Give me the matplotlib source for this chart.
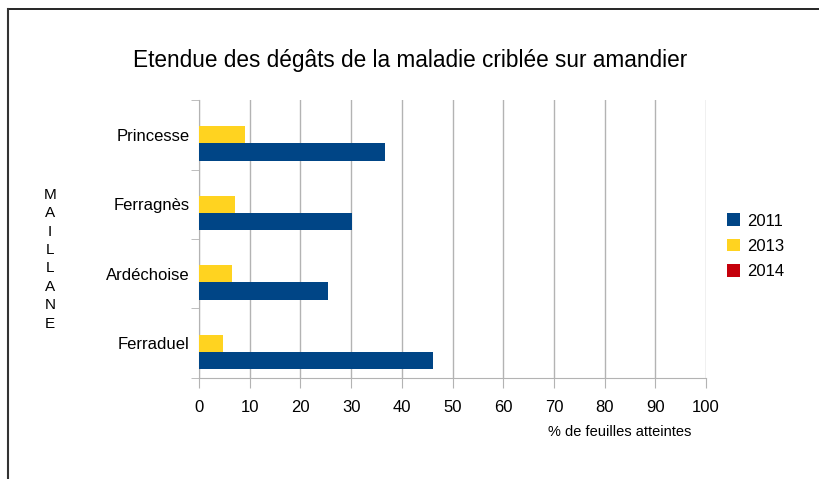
"""Etendue des dégâts de la maladie criblée sur amandier - Maillane."""

import numpy as np
import matplotlib.pyplot as plt
from matplotlib.lines import Line2D
from matplotlib.patches import Patch

plt.rcParams['font.family'] = ['Liberation Sans', 'DejaVu Sans']

# Varieties, bottom to top
varietes = ["Ferraduel", "Ardéchoise", "Ferragnès", "Princesse"]
annees = ["2011", "2013", "2014"]
val_2011 = [46.2, 25.4, 30.1, 36.6]
val_2013 = [4.7, 6.5, 7.1, 9.1]
val_2014 = [0, 0, 0, 0]
couleurs = ["#004586", "#ffd320", "#c5000b"]


def plot_degats():
    fig = plt.figure(figsize=(8.2, 4.79), dpi=100)
    ax = fig.add_axes([0.2427, 0.2109, 0.6183, 0.5803])

    y = np.arange(len(varietes))
    h = 0.25
    for k, vals in enumerate([val_2011, val_2013, val_2014]):
        ax.barh(y + (k - 1) * h, vals, height=h, color=couleurs[k], zorder=3)

    ax.set_xlim(0, 100)
    ax.set_ylim(-0.5, len(varietes) - 0.5)
    ax.set_xticks(range(0, 101, 10))
    ax.set_yticks(y)
    ax.set_yticklabels(varietes, fontsize=12)
    ax.set_yticks(np.arange(-0.5, len(varietes), 1), minor=True)
    ax.tick_params(axis='y', which='major', length=0, pad=7)
    ax.tick_params(axis='y', which='minor', length=6, color='#b3b3b3')
    ax.tick_params(axis='x', length=7, color='#b3b3b3', labelsize=12, pad=9)
    ax.xaxis.grid(True, color='#b3b3b3', linewidth=1, zorder=0)

    for s in ['top', 'right']:
        ax.spines[s].set_visible(False)
    for s in ['left', 'bottom']:
        ax.spines[s].set_color('#b3b3b3')

    fig.text(0.5, 0.873, "Etendue des dégâts de la maladie criblée sur amandier",
             ha='center', va='center', fontsize=16.3)
    fig.text(0.756, 0.098, "% de feuilles atteintes", ha='center', va='center', fontsize=10.5)
    fig.text(0.061, 0.459, "\n".join("MAILLANE"), ha='center', va='center',
             fontsize=11, linespacing=1.4)

    handles = [Patch(facecolor=c) for c in couleurs]
    fig.legend(handles, annees, loc='center left', bbox_to_anchor=(0.868, 0.486),
               frameon=False, fontsize=12, handlelength=0.8, handleheight=0.8,
               handletextpad=0.4, labelspacing=0.6)

    # Frame lines (top and left only)
    fig.add_artist(Line2D([8 / 820, 1], [1 - 9 / 479, 1 - 9 / 479],
                          transform=fig.transFigure, color='black', linewidth=1.2))
    fig.add_artist(Line2D([8 / 820, 8 / 820], [0, 1 - 9 / 479],
                          transform=fig.transFigure, color='#333333', linewidth=1.5))

    fig.savefig("out.png", dpi=100)


plot_degats()
